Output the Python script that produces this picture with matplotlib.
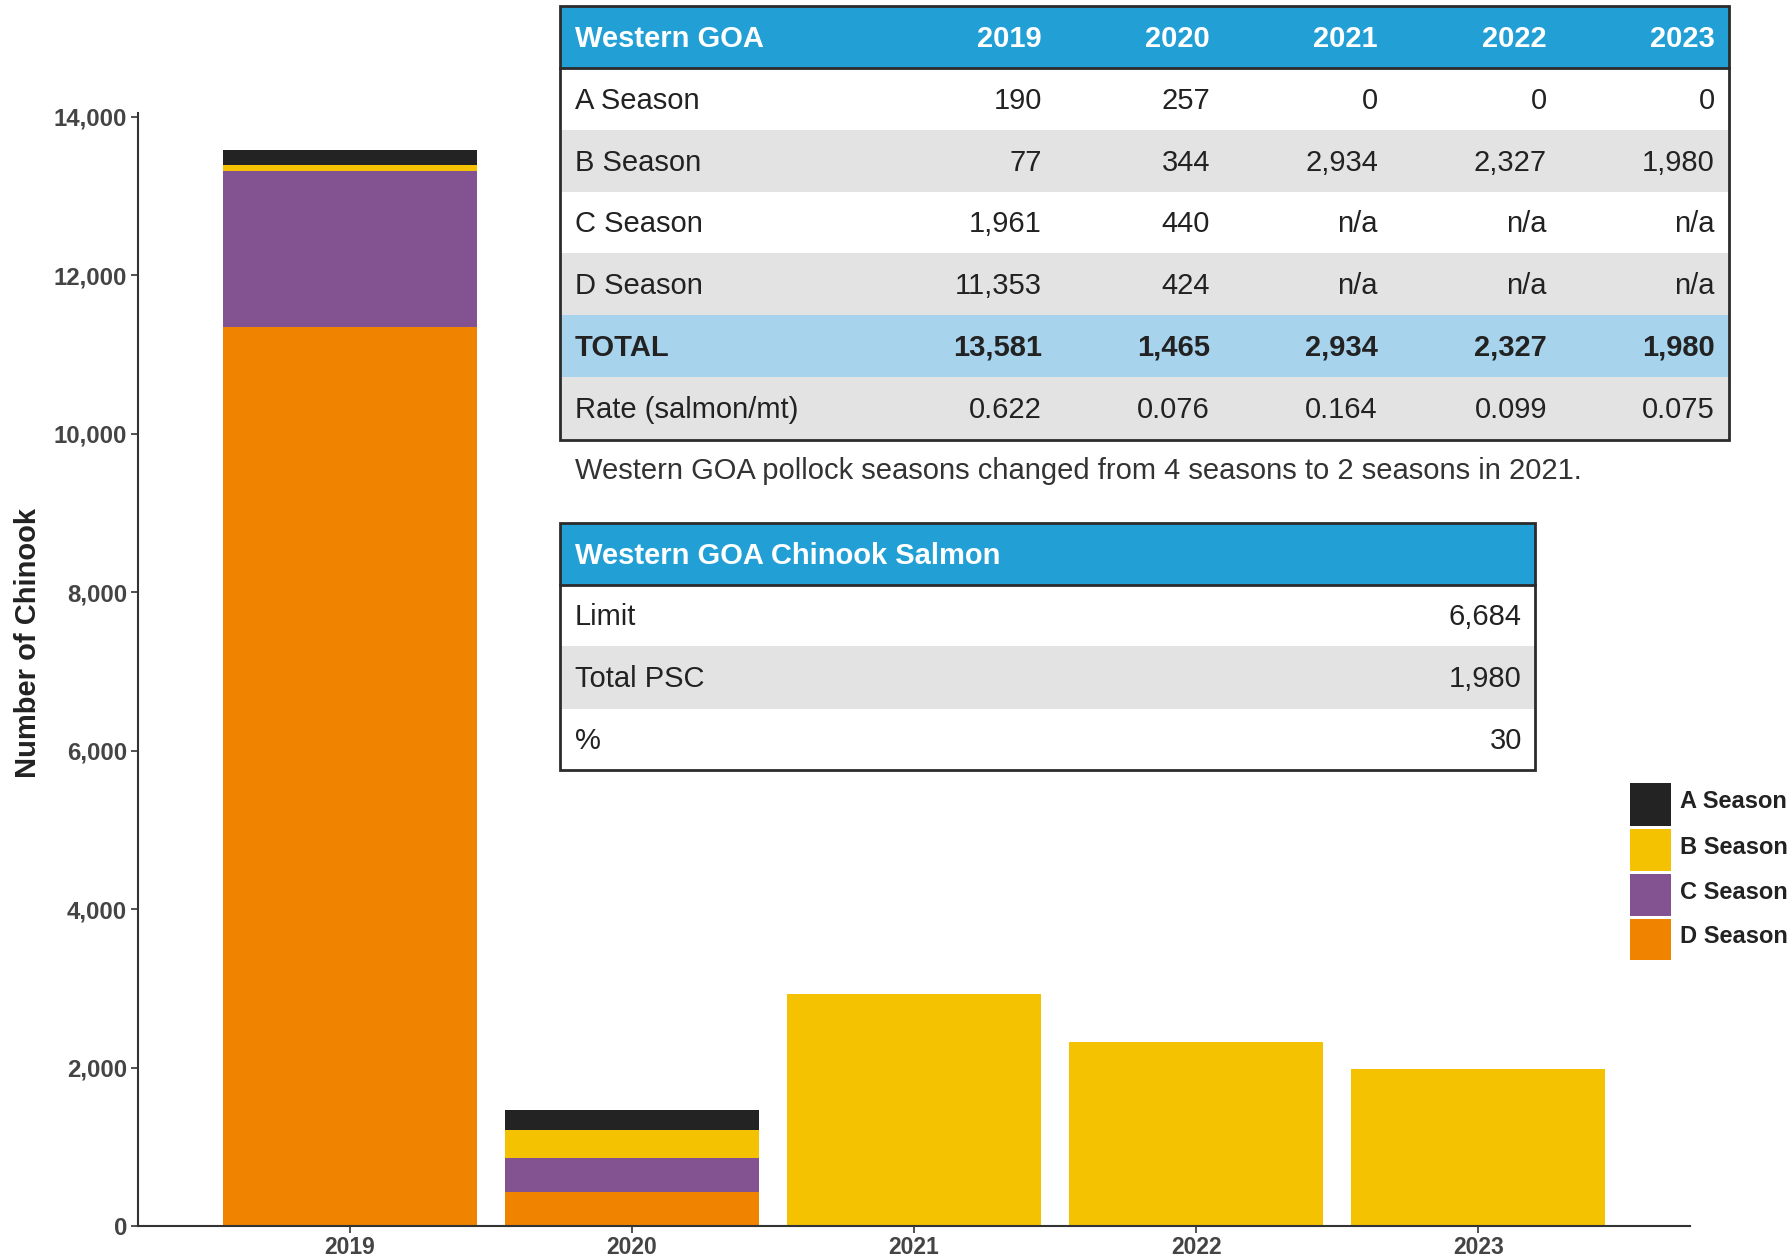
import matplotlib
matplotlib.use("Agg")
import matplotlib.pyplot as plt
from matplotlib.patches import Rectangle
import numpy as np

# ---------------- data ----------------
years = ["2019", "2020", "2021", "2022", "2023"]
seasons = ["A Season", "B Season", "C Season", "D Season"]
a_season = [190, 257, 0, 0, 0]
b_season = [77, 344, 2934, 2327, 1980]
c_season = [1961, 440, 0, 0, 0]
d_season = [11353, 424, 0, 0, 0]
colors = {"A Season": "#232323", "B Season": "#F4C200",
          "C Season": "#835291", "D Season": "#F08300"}
yticks = [0, 2000, 4000, 6000, 8000, 10000, 12000, 14000]

table1_header = ["Western GOA", "2019", "2020", "2021", "2022", "2023"]
table1_rows = [
    ["A Season", "190", "257", "0", "0", "0"],
    ["B Season", "77", "344", "2,934", "2,327", "1,980"],
    ["C Season", "1,961", "440", "n/a", "n/a", "n/a"],
    ["D Season", "11,353", "424", "n/a", "n/a", "n/a"],
    ["TOTAL", "13,581", "1,465", "2,934", "2,327", "1,980"],
    ["Rate (salmon/mt)", "0.622", "0.076", "0.164", "0.099", "0.075"],
]
note = "Western GOA pollock seasons changed from 4 seasons to 2 seasons in 2021."
table2_header = "Western GOA Chinook Salmon"
table2_rows = [["Limit", "6,684"], ["Total PSC", "1,980"], ["%", "30"]]

# ---------------- figure ----------------
W, H = 1790, 1259
fig = plt.figure(figsize=(W / 100, H / 100), dpi=100)
plt.rcParams["font.family"] = ["Liberation Sans", "DejaVu Sans"]
tf = ["Liberation Sans", "DejaVu Sans"]

ax_l, ax_r, ax_t, ax_b = 138, 1690, 113, 1226
ax = fig.add_axes([ax_l / W, 1 - ax_b / H, (ax_r - ax_l) / W, (ax_b - ax_t) / H])

x = np.arange(len(years))
bottom = np.zeros(len(years))
series = {"D Season": d_season, "C Season": c_season,
          "B Season": b_season, "A Season": a_season}
for name in ["D Season", "C Season", "B Season", "A Season"]:
    vals = np.array(series[name], dtype=float)
    ax.bar(x, vals, width=0.9, bottom=bottom, color=colors[name], linewidth=0)
    bottom += vals

ax.set_xlim(-0.75, 4.75)
ax.set_ylim(0, 14050)
ax.set_yticks(yticks)
ax.set_yticklabels([f"{v:,}" for v in yticks], fontsize=17.3, fontweight="bold", color="#444444")
ax.set_xticks(x)
ax.set_xticklabels(years, fontsize=16.5, fontweight="bold", color="#444444")
for s in ["top", "right"]:
    ax.spines[s].set_visible(False)
for s in ["left", "bottom"]:
    ax.spines[s].set_color("#333333")
    ax.spines[s].set_linewidth(1.5)
ax.tick_params(axis="y", color="#333333", length=5, width=1.2, pad=3)
ax.tick_params(axis="x", color="#333333", length=5, width=1.2, pad=2)
fig.text(28 / W, 1 - 643 / H, "Number of Chinook", rotation=90, fontsize=21,
         fontweight="bold", color="#222222", ha="center", va="center")

# ---------------- overlay (tables, legend) ----------------
ov = fig.add_axes([0, 0, 1, 1], zorder=5)
ov.set_xlim(0, W)
ov.set_ylim(H, 0)
ov.axis("off")
ov.patch.set_alpha(0)

HEAD = "#22A0D6"
GRAY = "#E3E3E3"
TOT = "#A8D3EC"
BORDER = "#2B2B2B"
FS = 21

# table 1
t1_x0, t1_x1 = 560, 1729
t1_y = [6, 68, 130, 192, 253, 315, 377, 440]
col_right = [None, 1042, 1210, 1378, 1547, 1715]
label_x = 575
ov.add_patch(Rectangle((t1_x0, t1_y[0]), t1_x1 - t1_x0, t1_y[1] - t1_y[0], color=HEAD, lw=0))
row_bg = ["white", GRAY, "white", GRAY, TOT, GRAY]
for i, row in enumerate(table1_rows):
    y0, y1 = t1_y[i + 1], t1_y[i + 2]
    ov.add_patch(Rectangle((t1_x0, y0), t1_x1 - t1_x0, y1 - y0, color=row_bg[i], lw=0))
    bold = row[0] == "TOTAL"
    yc = (y0 + y1) / 2 + 1.5
    ov.text(label_x, yc, row[0], ha="left", va="center", fontsize=FS,
            fontweight="bold" if bold else "normal", color="#222222", family=tf)
    for j in range(1, 6):
        ov.text(col_right[j], yc, row[j], ha="right", va="center", fontsize=FS,
                fontweight="bold" if bold else "normal", color="#222222", family=tf)
yc = (t1_y[0] + t1_y[1]) / 2 + 1.5
ov.text(label_x, yc, table1_header[0], ha="left", va="center", fontsize=FS,
        fontweight="bold", color="white", family=tf)
for j in range(1, 6):
    ov.text(col_right[j], yc, table1_header[j], ha="right", va="center", fontsize=FS,
            fontweight="bold", color="white", family=tf)
ov.add_patch(Rectangle((t1_x0, t1_y[0]), t1_x1 - t1_x0, t1_y[-1] - t1_y[0],
                       fill=False, ec=BORDER, lw=2))
ov.plot([t1_x0, t1_x1], [t1_y[1], t1_y[1]], color=BORDER, lw=2)

ov.text(label_x, 471, note, ha="left", va="center", fontsize=FS, color="#333333", family=tf)

# table 2
t2_x0, t2_x1 = 560, 1535
t2_y = [523, 585, 646, 709, 770]
ov.add_patch(Rectangle((t2_x0, t2_y[0]), t2_x1 - t2_x0, t2_y[1] - t2_y[0], color=HEAD, lw=0))
ov.text(label_x, (t2_y[0] + t2_y[1]) / 2 + 1.5, table2_header, ha="left", va="center",
        fontsize=FS, fontweight="bold", color="white", family=tf)
row_bg2 = ["white", GRAY, "white"]
for i, (lab, val) in enumerate(table2_rows):
    y0, y1 = t2_y[i + 1], t2_y[i + 2]
    ov.add_patch(Rectangle((t2_x0, y0), t2_x1 - t2_x0, y1 - y0, color=row_bg2[i], lw=0))
    yc = (y0 + y1) / 2 + 1.5
    ov.text(label_x, yc, lab, ha="left", va="center", fontsize=FS, color="#222222", family=tf)
    ov.text(1522, yc, val, ha="right", va="center", fontsize=FS, color="#222222", family=tf)
ov.add_patch(Rectangle((t2_x0, t2_y[0]), t2_x1 - t2_x0, t2_y[-1] - t2_y[0],
                       fill=False, ec=BORDER, lw=2))
ov.plot([t2_x0, t2_x1], [t2_y[1], t2_y[1]], color=BORDER, lw=2)

# legend
leg_y = [782, 828, 873, 918, 962]
for i, name in enumerate(seasons):
    y0, y1 = leg_y[i], leg_y[i + 1]
    ov.add_patch(Rectangle((1630, y0 + 1), 41, y1 - y0 - 3, color=colors[name], lw=0))
    ov.text(1680, (y0 + y1) / 2 - 3.5, name, ha="left", va="center", fontsize=17,
            fontweight="bold", color="#222222")

fig.savefig("out.png", dpi=100, facecolor="white")
